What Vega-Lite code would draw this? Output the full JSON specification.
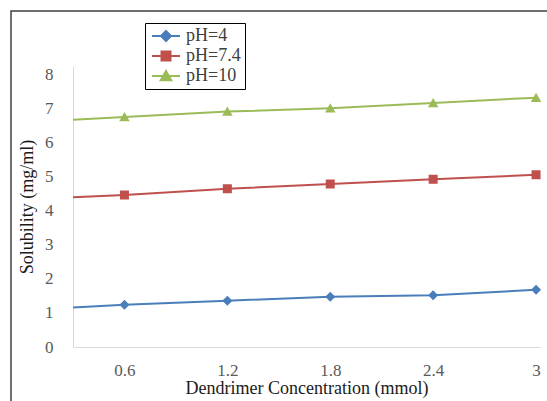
{
  "$schema": "https://vega.github.io/schema/vega-lite/v6.json",
  "autosize": {"type": "none"},
  "padding": {"left": 11, "top": 11, "right": -4, "bottom": -5},
  "width": 540,
  "height": 395,
  "background": "white",
  "config": {
    "view": {"stroke": "#404040", "strokeWidth": 1.5},
    "font": "Liberation Serif",
    "legend": {
      "orient": "none",
      "legendX": 134,
      "legendY": 12,
      "title": null,
      "strokeColor": "#000000",
      "strokeWidth": 1,
      "fillColor": "white",
      "padding": 4,
      "symbolOffset": 8,
      "symbolSize": 100,
      "symbolStrokeWidth": 2,
      "labelOffset": 11,
      "labelFont": "Liberation Serif",
      "labelFontSize": 18,
      "labelColor": "#404040",
      "rowPadding": 2
    }
  },
  "data": {
    "values": [
      {"x": 0.3, "y": 1.16, "s": "pH=4"},
      {"x": 0.6, "y": 1.24, "s": "pH=4"},
      {"x": 1.2, "y": 1.36, "s": "pH=4"},
      {"x": 1.8, "y": 1.48, "s": "pH=4"},
      {"x": 2.4, "y": 1.52, "s": "pH=4"},
      {"x": 3.0, "y": 1.68, "s": "pH=4"},
      {"x": 0.3, "y": 4.40, "s": "pH=7.4"},
      {"x": 0.6, "y": 4.47, "s": "pH=7.4"},
      {"x": 1.2, "y": 4.65, "s": "pH=7.4"},
      {"x": 1.8, "y": 4.79, "s": "pH=7.4"},
      {"x": 2.4, "y": 4.93, "s": "pH=7.4"},
      {"x": 3.0, "y": 5.06, "s": "pH=7.4"},
      {"x": 0.3, "y": 6.68, "s": "pH=10"},
      {"x": 0.6, "y": 6.76, "s": "pH=10"},
      {"x": 1.2, "y": 6.92, "s": "pH=10"},
      {"x": 1.8, "y": 7.02, "s": "pH=10"},
      {"x": 2.4, "y": 7.17, "s": "pH=10"},
      {"x": 3.0, "y": 7.33, "s": "pH=10"}
    ]
  },
  "encoding": {
    "x": {
      "field": "x", "type": "quantitative",
      "scale": {"domain": [0.3, 3.023], "range": [62, 529], "nice": false, "zero": false},
      "axis": {
        "values": [0.6, 1.2, 1.8, 2.4, 3],
        "format": "~g",
        "offset": -59,
        "grid": false, "ticks": false,
        "domainColor": "#d9d9d9", "domainWidth": 1,
        "labelFont": "Liberation Serif", "labelFontSize": 17, "labelColor": "#595959",
        "labelPadding": 15, "labelFlush": false,
        "title": "Dendrimer Concentration (mmol)",
        "titleFont": "Liberation Serif", "titleFontSize": 18, "titleFontWeight": "normal",
        "titleColor": "#1a1a1a", "titlePadding": 1
      }
    },
    "y": {
      "field": "y", "type": "quantitative",
      "scale": {"domain": [0, 8.26], "range": [336, 55], "nice": false, "zero": false},
      "axis": {
        "values": [0, 1, 2, 3, 4, 5, 6, 7, 8],
        "offset": -62,
        "grid": false, "ticks": false,
        "domainColor": "#d9d9d9", "domainWidth": 1,
        "labelFont": "Liberation Serif", "labelFontSize": 17, "labelColor": "#595959",
        "labelPadding": 20,
        "title": "Solubility (mg/ml)",
        "titleFont": "Liberation Serif", "titleFontSize": 18, "titleFontWeight": "normal",
        "titleColor": "#1a1a1a", "titlePadding": 8
      }
    },
    "color": {
      "field": "s", "type": "nominal",
      "scale": {"domain": ["pH=4", "pH=7.4", "pH=10"], "range": ["#4a7ebb", "#c0504d", "#9bbb59"]},
      "legend": {"labelFont": "Liberation Serif", "labelFontSize": 18}
    }
  },
  "layer": [
    {
      "mark": {"type": "line", "strokeWidth": 2}
    },
    {
      "transform": [{"filter": "datum.x >= 0.5"}],
      "mark": {"type": "point", "filled": true, "size": 100, "opacity": 1, "strokeWidth": 0},
      "encoding": {
        "shape": {
          "field": "s", "type": "nominal",
          "scale": {
            "domain": ["pH=4", "pH=7.4", "pH=10"],
            "range": [
              "M-2.8,0H2.8M0,-1L1,0L0,1L-1,0Z",
              "M-2.8,0H2.8M-0.9,-0.9H0.9V0.9H-0.9Z",
              "M-2.8,0H2.8M0,-1L1.05,0.85H-1.05Z"
            ]
          },
          "legend": {"labelFont": "Liberation Serif", "labelFontSize": 18}
        }
      }
    }
  ]
}
